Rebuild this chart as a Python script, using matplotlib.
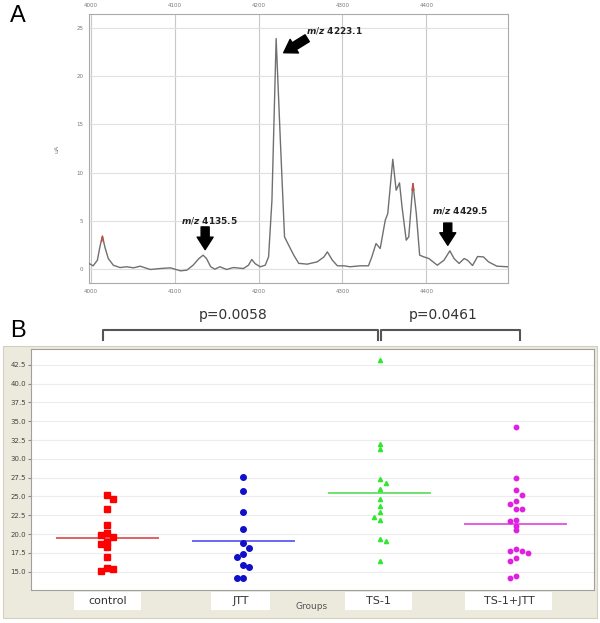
import matplotlib.pyplot as plt
from matplotlib.patches import Rectangle
import numpy as np

plt.rcParams['font.family'] = ['DejaVu Sans']
plt.rcParams['mathtext.fontset'] = 'custom'
plt.rcParams['mathtext.it'] = 'DejaVu Sans:italic:bold'

# --- panel A: spectrum trace (m/z, intensity)
mz = [3998, 4003, 4008, 4011, 4014, 4017, 4021, 4027, 4035, 4043, 4051, 4059, 4071, 4083,
      4095, 4107, 4114.6, 4122, 4129, 4134, 4138, 4143, 4148, 4154, 4162, 4170, 4182, 4188,
      4192, 4196, 4202, 4208, 4212, 4216, 4221, 4226, 4231, 4236, 4242, 4248, 4250, 4258,
      4270, 4278, 4282, 4288, 4294, 4302, 4309, 4321, 4331, 4335, 4340, 4345, 4351, 4354,
      4360, 4364, 4368, 4371, 4376, 4379, 4384, 4388, 4392, 4397, 4403, 4413, 4421, 4428,
      4433, 4439, 4445, 4449, 4455, 4461, 4468, 4474, 4484, 4497]
intens = [0.62, 0.38, 0.96, 2.33, 3.44, 2.3, 1.13, 0.44, 0.2, 0.28, 0.17, 0.34, 0.0, 0.1,
          0.17, -0.14, -0.07, 0.44, 1.13, 1.48, 1.13, 0.28, 0.03, 0.28, 0.0, 0.2, 0.1, 0.44,
          1.03, 0.6, 0.28, 0.44, 1.3, 7.16, 23.86, 13.36, 3.37, 2.5, 1.48, 0.62, 0.62, 0.55,
          0.79, 1.3, 1.82, 0.96, 0.38, 0.38, 0.28, 0.38, 0.38, 1.3, 2.68, 2.17, 5.09, 5.78,
          11.39, 8.19, 8.95, 6.47, 3.03, 3.37, 8.88, 5.78, 1.48, 1.3, 1.13, 0.44, 0.96, 1.93,
          1.13, 0.62, 1.13, 0.96, 0.41, 1.34, 1.3, 0.79, 0.34, 0.28]
tip1_mz = [4012.8, 4014, 4015.2]
tip1_i = [2.9, 3.44, 2.9]
tip2_mz = [4383, 4384, 4385]
tip2_i = [8.2, 8.88, 8.2]

peak_labels = ['4223.1', '4135.5', '4429.5']

# --- panel B: scatter groups
groups = ['control', 'JTT', 'TS-1', 'TS-1+JTT']
control = [25.18, 24.65, 23.3, 21.2, 19.87, 20.09, 19.56, 18.98, 18.67, 18.27, 16.95, 15.49, 15.35, 15.13]
control_slot = [0, 1, 0, 0, -1, 0, 1, 0, -1, 0, 0, 0, 1, -1]
jtt = [27.65, 25.75, 22.88, 20.71, 18.76, 18.14, 17.39, 16.99, 15.93, 15.66, 14.12, 14.2]
jtt_slot = [0, 0, 0, 0, 0, 1, 0, -1, 0, 1, -1, 0]
ts1 = [43.1, 31.95, 31.28, 27.3, 26.77, 25.93, 24.6, 23.72, 22.88, 22.26, 21.86, 19.34, 19.07, 16.46]
ts1_slot = [0, 0, 0, 0, 1, 0, 0, 0, 0, -1, 0, 0, 1, 0]
ts1jtt = [34.2, 27.48, 25.88, 25.22, 24.38, 23.94, 23.32, 23.32, 21.77, 21.9, 21.1, 20.49,
          18.05, 17.74, 17.74, 17.43, 16.81, 16.46, 14.47, 14.12]
ts1jtt_slot = [0, 0, 0, 1, 0, -1, 0, 1, -1, 0, 0, 0, 0, -1, 1, 2, 0, -1, 0, -1]
p_values = ['p=0.0058', 'p=0.0461']

fig = plt.figure(figsize=(6, 6.23), dpi=100)

# ---------------- panel A
axA = fig.add_axes([0.1483, 0.5457, 0.698, 0.4318])
axA.plot(mz, intens, color='#707070', lw=1.0, zorder=3)
axA.plot(tip1_mz, tip1_i, color='#c05040', lw=1.0, zorder=4)
axA.plot(tip2_mz, tip2_i, color='#c05040', lw=1.0, zorder=4)
axA.axhline(0, color='#cccccc', lw=0.6, ls=':', zorder=1)
axA.set_xlim(3998, 4497)
axA.set_ylim(-1.4, 26.4)
axA.set_xticks([4000, 4100, 4200, 4300, 4400])
axA.set_yticks([0, 5, 10, 15, 20, 25])
axA.xaxis.grid(True, color='#c8c8c8', lw=0.8)
axA.yaxis.grid(True, color='#e0e0e0', lw=0.8)
axA.tick_params(axis='both', length=0, labelsize=4, labelcolor='#777777', pad=4)
axA.tick_params(axis='x', top=True, labeltop=True)
for s in axA.spines.values():
    s.set_color('#aaaaaa')
axA.set_ylabel('uA', fontsize=4.5, color='#777777', labelpad=12)

arrow_kw = dict(arrowstyle='simple,head_length=0.9,head_width=1.15,tail_width=0.58',
                fc='black', ec='black', mutation_scale=10, shrinkA=0, shrinkB=0)
axA.annotate('', xy=(4230, 22.4), xytext=(4258, 23.9), arrowprops=arrow_kw, zorder=5)
axA.annotate('', xy=(4136.4, 2.05), xytext=(4136.4, 4.4), arrowprops=arrow_kw, zorder=5)
axA.annotate('', xy=(4425.5, 2.5), xytext=(4425.5, 4.8), arrowprops=arrow_kw, zorder=5)
lab_kw = dict(fontsize=6.5, fontweight='bold', color='#222222', va='center')
axA.text(4256, 24.65, r'$m/z$ ' + peak_labels[0], ha='left', **lab_kw)
axA.text(4141, 5.1, r'$m/z$ ' + peak_labels[1], ha='center', **lab_kw)
axA.text(4441, 6.1, r'$m/z$ ' + peak_labels[2], ha='center', **lab_kw)

fig.text(10 / 600, 1 - 16 / 623, 'A', fontsize=17, family='Liberation Sans', va='center')

# ---------------- panel B
fig.patches.append(Rectangle((3 / 600, 1 - 618 / 623), 594 / 600, 272 / 623,
                             transform=fig.transFigure, fc='#ece9dd', ec='#d4d0c0',
                             lw=0.8, zorder=-1))
axB = fig.add_axes([0.0512, 0.0530, 0.939, 0.3868])
axB.set_zorder(1)
axB.set_facecolor('white')
axB.set_xlim(0.437, 4.576)
axB.set_ylim(12.57, 44.6)
yt = np.arange(15, 42.6, 2.5)
axB.set_yticks(yt)
axB.set_yticklabels([f'{v:.1f}' for v in yt])
axB.set_xticks([])
axB.yaxis.grid(True, color='#ececec', lw=0.8)
axB.set_axisbelow(True)
axB.tick_params(axis='y', length=2, color='#888888', labelsize=5, labelcolor='#444444', pad=1.5)
for s in axB.spines.values():
    s.set_color('#a0a0a0')

slot_w = 0.044
styles = [('s', 4.2, '#ff0000', '#e06060'),
          ('o', 4.0, '#1010c8', '#6868f0'),
          ('^', 3.0, '#30e830', '#70e070'),
          ('o', 3.2, '#e020e0', '#e060e0')]
series = [(control, control_slot), (jtt, jtt_slot), (ts1, ts1_slot), (ts1jtt, ts1jtt_slot)]
for i, ((vals, slots), (mk, ms, col, lcol)) in enumerate(zip(series, styles)):
    xpos = i + 1 + np.array(slots) * slot_w
    axB.plot(xpos, vals, ls='none', marker=mk, ms=ms, color=col, mec=col, zorder=4)
    m = np.mean(vals)
    axB.plot([i + 1 - 0.37, i + 1 + 0.37], [m, m], color=lcol, lw=1.4, zorder=3)

# category boxes below plot
trans = axB.get_xaxis_transform()
box_w = [0.49, 0.43, 0.49, 0.64]
box_dx = [0.0, -0.02, -0.01, -0.05]
for i, g in enumerate(groups):
    cx = i + 1 + box_dx[i]
    axB.add_patch(Rectangle((cx - box_w[i] / 2, -0.083), box_w[i], 0.075, transform=trans,
                            fc='white', ec='none', clip_on=False))
    axB.text(cx, -0.045, g, transform=trans, ha='center', va='center',
             fontsize=8, color='#333333')
axB.text(2.5, -0.07, 'Groups', transform=trans, ha='center',
         va='center', fontsize=6.5, color='#555555')

# significance brackets
brackets = [(0.97, 2.985), (3.01, 4.03)]
for (x0, x1), p in zip(brackets, p_values):
    axB.plot([x0, x0, x1, x1], [1.037, 1.079, 1.079, 1.037], transform=trans,
             color='#555555', lw=1.5, clip_on=False)
    axB.text((x0 + x1) / 2 - 0.055, 1.141, p, transform=trans, ha='center', va='center',
             fontsize=10, color='#333333')

fig.text(10 / 600, 1 - 331 / 623, 'B', fontsize=17, family='Liberation Sans', va='center')

plt.savefig('out.png', dpi=100)
